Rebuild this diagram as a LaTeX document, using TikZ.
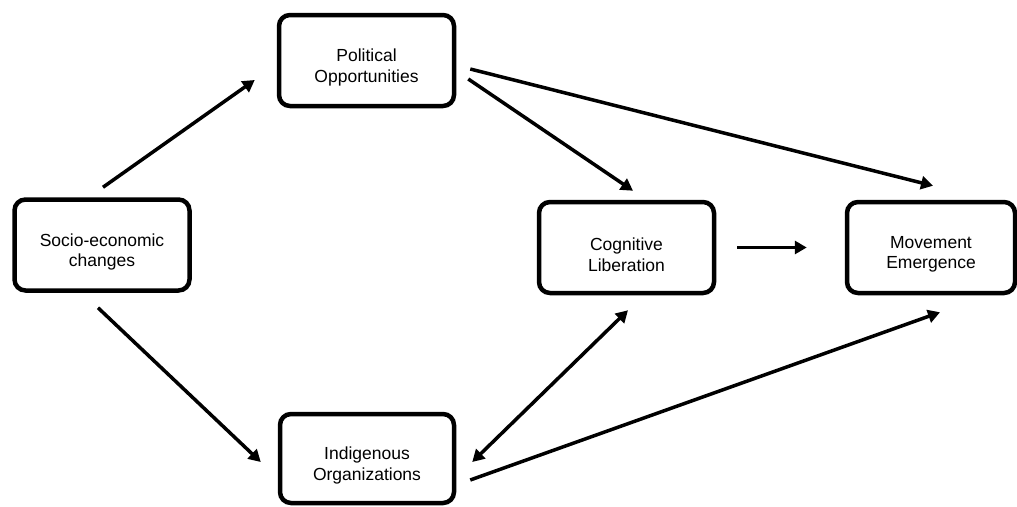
\documentclass[tikz,border=0pt]{standalone}
\usepackage{fontspec}
\setmainfont{Liberation Sans}
\usetikzlibrary{arrows.meta,calc}
\begin{document}
\begin{tikzpicture}[x=1pt,y=-1pt,
  stage/.style={draw=black, line width=4.5pt, rounded corners=11pt,
    minimum width=175pt, minimum height=91pt, inner sep=0pt,
    label={[align=center, yshift=-7pt, inner sep=0pt,
      font=\fontsize{17.5}{20.5}\selectfont]center:#1}},
  link/.style={line width=3.5pt, -{Triangle[length=12pt,width=13pt]}},
  twoway/.style={line width=3.5pt,
    {Triangle[length=12pt,width=13pt]}-{Triangle[length=12pt,width=13pt]}}]
  \useasboundingbox[fill=white] (0,0) rectangle (1017,506);

  % the five stages of the process
  \node[stage={Socio-economic\\changes}] (soc) at (102,245) {};
  \node[stage={Political\\Opportunities}] (pol) at (366.5,60.5) {};
  \node[stage={Indigenous\\Organizations}, minimum width=174pt, minimum height=89pt]
    (ind) at (367,458.5) {};
  \node[stage={Cognitive\\Liberation}] (cog) at (626.5,247.5) {};
  \node[stage={Movement\\Emergence}, minimum width=168pt] (mov) at (931,247.5) {};

  % causal links
  \draw[link] ($(soc.north)+(1,-10)$) -- ($(pol.west)+(-22,19.5)$);
  \draw[link] ($(soc.south)+(-4,15)$) -- ($(ind.west)+(-17,3.5)$);
  \draw[link] ($(pol.east)+(14,8.5)$) -- ($(mov.north)+(2,-14)$);
  \draw[link] ($(pol.east)+(12,18.5)$) -- ($(cog.north)+(6.5,-9)$);
  \draw[link] ($(cog.east)+(21,0)$) -- ($(mov.west)+(-38,0)$);
  \draw[twoway] ($(ind.east)+(16,3.5)$) -- ($(cog.south)+(1.5,15)$);
  \draw[link] ($(ind.east)+(14,21.5)$) -- ($(mov.south)+(9,17)$);
\end{tikzpicture}
\end{document}
